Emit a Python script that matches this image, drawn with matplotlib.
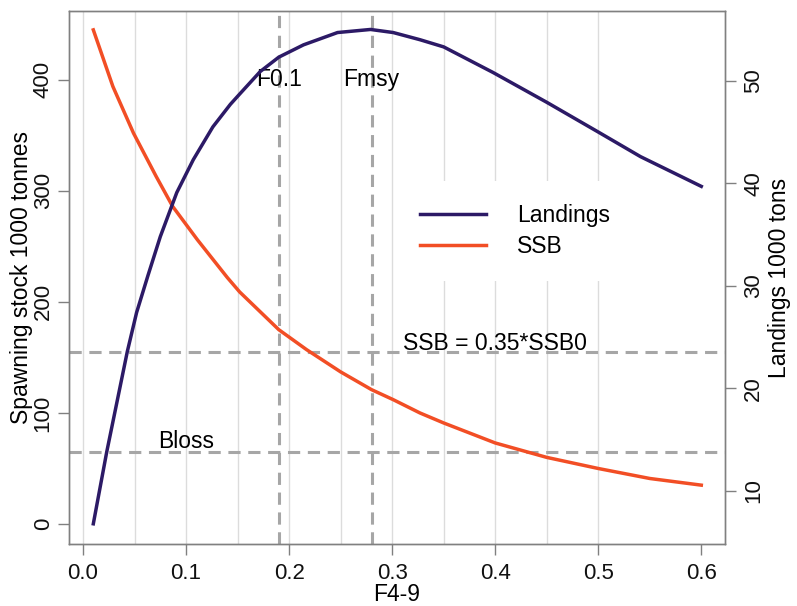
import numpy as np
import matplotlib
matplotlib.use('Agg')
import matplotlib.pyplot as plt
from matplotlib.lines import Line2D

plt.rcParams['font.family'] = ['Liberation Sans', 'DejaVu Sans']

# fishing mortality (F4-9) vs SSB (left axis)
f_ssb = [0.01, 0.029, 0.049, 0.071, 0.087, 0.111, 0.14, 0.152, 0.19, 0.217,
         0.25, 0.28, 0.301, 0.327, 0.35, 0.4, 0.45, 0.5, 0.55, 0.6]
ssb = [445, 394, 352, 313, 286, 256, 222, 209, 175, 157,
       137, 121, 112, 100, 91, 73, 60, 50, 41, 35]

# fishing mortality vs landings (right axis)
f_land = [0.01, 0.023, 0.043, 0.052, 0.063, 0.075, 0.091, 0.107, 0.126,
          0.143, 0.152, 0.172, 0.19, 0.214, 0.247, 0.279, 0.301, 0.327, 0.35,
          0.398, 0.45, 0.5, 0.541, 0.6]
landings = [6.8, 13.8, 23.6, 27.4, 31.0, 34.8, 39.1, 42.3, 45.5,
            47.7, 48.7, 50.9, 52.3, 53.5, 54.7, 55.0, 54.7, 54.0, 53.3,
            50.8, 47.9, 45.0, 42.6, 39.7]

f01, fmsy = 0.19, 0.28
bpa, bloss = 155, 65

blue = '#2c1a66'
red = '#f24e25'
dash_col = '#a6a6a6'
box_col = '#808080'
fs = 16.5
fs_tick = 16

fig = plt.figure(figsize=(7.97, 6.06), dpi=100)
ax = fig.add_axes([69/797, 1-544/606, 656/797, 533/606])
ax2 = ax.twinx()

# light vertical grid
for g in np.arange(0, 0.501, 0.05):
    ax.axvline(g, color='#dcdcdc', lw=1, zorder=0)

dash = (0, (4, 2.5))
ax.axhline(bpa, color=dash_col, ls=dash, lw=2.2, zorder=1)
ax.axhline(bloss, color=dash_col, ls=dash, lw=2.2, zorder=1)
ax.axvline(f01, color=dash_col, ls=dash, lw=2.2, zorder=1)
ax.axvline(fmsy, color=dash_col, ls=dash, lw=2.2, zorder=1)

ax.plot(f_ssb, ssb, color=red, lw=2.5, zorder=3)
ax2.plot(f_land, landings, color=blue, lw=2.5, zorder=3)

ax.text(f01, 400, 'F0.1', fontsize=fs, ha='center', va='center', zorder=2)
ax.text(fmsy, 400, 'Fmsy', fontsize=fs, ha='center', va='center', zorder=2)
ax.text(0.4, 163, 'SSB = 0.35*SSB0', fontsize=fs, ha='center', va='center', zorder=2)
ax.text(0.1, 74, 'Bloss', fontsize=fs, ha='center', va='center', zorder=2)

ax.set_xlim(-0.0136, 0.623)
ax.set_ylim(-18, 462)
ax2.set_ylim(4.83, 56.8)

ax.set_xticks([0.0, 0.1, 0.2, 0.3, 0.4, 0.5, 0.6])
ax.set_xticklabels(['0.0', '0.1', '0.2', '0.3', '0.4', '0.5', '0.6'])
ax.set_yticks([0, 100, 200, 300, 400])
ax2.set_yticks([10, 20, 30, 40, 50])

for a in (ax, ax2):
    for s in a.spines.values():
        s.set_color(box_col)
        s.set_linewidth(1)
    a.tick_params(axis='both', colors=box_col, labelcolor='#111111',
                  length=8, width=1, labelsize=fs_tick)
ax.tick_params(axis='x', pad=6)
ax.tick_params(axis='y', pad=3)
ax2.tick_params(axis='y', pad=5)
for lab in ax.get_yticklabels() + ax2.get_yticklabels():
    lab.set_rotation(90)
    lab.set_va('center')

ax.set_xlabel('F4-9', fontsize=fs, labelpad=-1)
ax.set_ylabel('Spawning stock 1000 tonnes', fontsize=fs, labelpad=0)
ax2.set_ylabel('Landings 1000 tons', fontsize=fs, labelpad=3)

handles = [Line2D([], [], color=blue, lw=2.5), Line2D([], [], color=red, lw=2.5)]
leg = ax2.legend(handles, ['Landings', 'SSB'], loc='upper left',
                 bbox_to_anchor=(0.5, 0.681), borderaxespad=0, fontsize=fs,
                 frameon=True, framealpha=1, edgecolor='none', fancybox=False,
                 handlelength=2.9, handletextpad=1.35, borderpad=1.0,
                 labelspacing=0.35)

fig.savefig('out.png', dpi=100)
